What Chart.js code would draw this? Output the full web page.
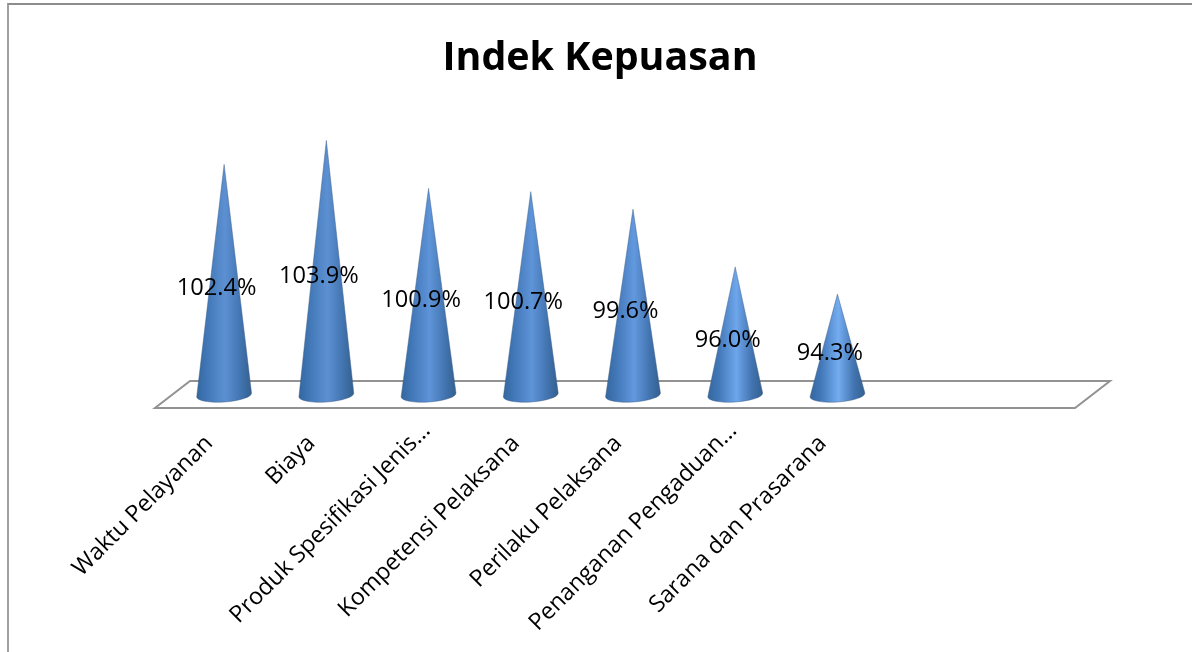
<!DOCTYPE html>
<html>
<head>
<meta charset="utf-8">
<style>
html, body { margin: 0; padding: 0; background: #fff; }
#wrap { position: relative; width: 1192px; height: 652px; overflow: hidden; }
#frame { position: absolute; left: 7px; top: 3px; width: 1184px; height: 660px; border-left: 2px solid #a0a0a0; border-top: 2px solid #8c8c8c; border-right: 1px solid #d0d0d0; }
canvas { position: absolute; left: 0; top: 0; }
</style>
<script src="https://cdn.jsdelivr.net/npm/chart.js@4"></script>
</head>
<body>
<div id="wrap">
<div id="frame"></div>
<canvas id="chart_div" width="1192" height="652"></canvas>
</div>
<script>
const categories = [
    'Waktu Pelayanan',
    'Biaya',
    'Produk Spesifikasi Jenis…',
    'Kompetensi Pelaksana',
    'Perilaku Pelaksana',
    'Penanganan Pengaduan…',
    'Sarana dan Prasarana',
    '',
    ''
];
const indexValues = [102.4, 103.9, 100.9, 100.7, 99.6, 96.0, 94.3, null, null];
const coneHighlight = ['#5c90d2', '#5c90d2', '#5e94d8', '#5e94d8', '#6298de', '#6ea6ec', '#74acf0'];
const axisMin = 88;
const axisMax = 104;

const FONT = '"Open Sans", sans-serif';

// floor and cones go on top of the (invisible) bars
const conePlugin = {
    id: 'cones',
    beforeDatasetsDraw(chart) {
        const { ctx, chartArea } = chart;
        const front = chartArea.bottom + 13;
        const back = chartArea.bottom - 14;
        ctx.save();
        ctx.strokeStyle = '#929292';
        ctx.lineWidth = 2;
        ctx.beginPath();
        ctx.moveTo(chartArea.left - 18, front);
        ctx.lineTo(chartArea.right - 18, front);
        ctx.lineTo(chartArea.right + 17, back);
        ctx.lineTo(chartArea.left + 17, back);
        ctx.closePath();
        ctx.stroke();
        ctx.restore();
    },
    afterDatasetsDraw(chart) {
        const { ctx } = chart;
        const meta = chart.getDatasetMeta(0);
        meta.data.forEach((bar, i) => {
            const v = indexValues[i];
            if (v === null) return;
            const hw = 27.5;
            const tilt = -0.07;
            const rx = bar.x + hw * Math.cos(tilt);
            const ry = bar.base + hw * Math.sin(tilt);
            const grad = ctx.createLinearGradient(bar.x - hw, 0, bar.x + hw, 0);
            grad.addColorStop(0, '#33679f');
            grad.addColorStop(0.2, '#4278b8');
            grad.addColorStop(0.52, coneHighlight[i]);
            grad.addColorStop(0.8, '#4274b0');
            grad.addColorStop(1, '#34608f');
            ctx.save();
            ctx.fillStyle = grad;
            ctx.strokeStyle = 'rgba(60, 90, 130, 0.45)';
            ctx.lineWidth = 1;
            ctx.beginPath();
            ctx.moveTo(bar.x, bar.y);
            ctx.lineTo(rx, ry);
            ctx.ellipse(bar.x, bar.base, hw, 7, tilt, 0, Math.PI);
            ctx.closePath();
            ctx.fill();
            ctx.stroke();
            ctx.restore();
        });
        ctx.save();
        ctx.fillStyle = '#000';
        ctx.font = '23.6px ' + FONT;
        ctx.textAlign = 'center';
        ctx.textBaseline = 'middle';
        meta.data.forEach((bar, i) => {
            const v = indexValues[i];
            if (v === null) return;
            ctx.fillText(v.toFixed(1) + '%', bar.x - 7.5, (bar.y + bar.base) / 2 + 9);
        });
        ctx.restore();
    }
};

new Chart(document.getElementById('chart_div'), {
    type: 'bar',
    data: {
        labels: categories,
        datasets: [{
            label: 'Indek Kepuasan',
            data: indexValues,
            base: axisMin,
            backgroundColor: 'transparent',
            borderWidth: 0,
            categoryPercentage: 1,
            barPercentage: 0.54
        }]
    },
    options: {
        responsive: false,
        animation: false,
        layout: { padding: { left: 8, top: 0, right: 0, bottom: 0 } },
        plugins: {
            legend: { display: false },
            tooltip: { enabled: false },
            title: {
                display: true,
                text: 'Indek Kepuasan',
                color: '#000',
                font: { family: FONT, size: 39.4, weight: 'bold', lineHeight: 1.2 },
                padding: { top: 35, bottom: 56.5 }
            }
        },
        scales: {
            x: {
                grid: { display: false },
                border: { display: false },
                ticks: {
                    color: '#000',
                    font: { family: FONT, size: 23.3 },
                    minRotation: 45,
                    maxRotation: 45,
                    autoSkip: false,
                    padding: 14,
                    labelOffset: -2,
                    // whole labels sit further back from the tick than the cut-off ones
                    callback(value) {
                        const text = this.getLabelForValue(value);
                        return text.endsWith('…') || text === '' ? text : text + '\u00a0\u00a0\u00a0';
                    }
                },
                afterFit(scale) { scale.height = 257; }
            },
            y: {
                min: axisMin,
                max: axisMax,
                grid: { display: false },
                border: { display: false },
                ticks: { display: false },
                afterFit(scale) { scale.width = 165; }
            },
            y2: {
                position: 'right',
                min: axisMin,
                max: axisMax,
                grid: { display: false },
                border: { display: false },
                ticks: { display: false },
                afterFit(scale) { scale.width = 99; }
            }
        }
    },
    plugins: [conePlugin]
});
</script>
</body>
</html>
